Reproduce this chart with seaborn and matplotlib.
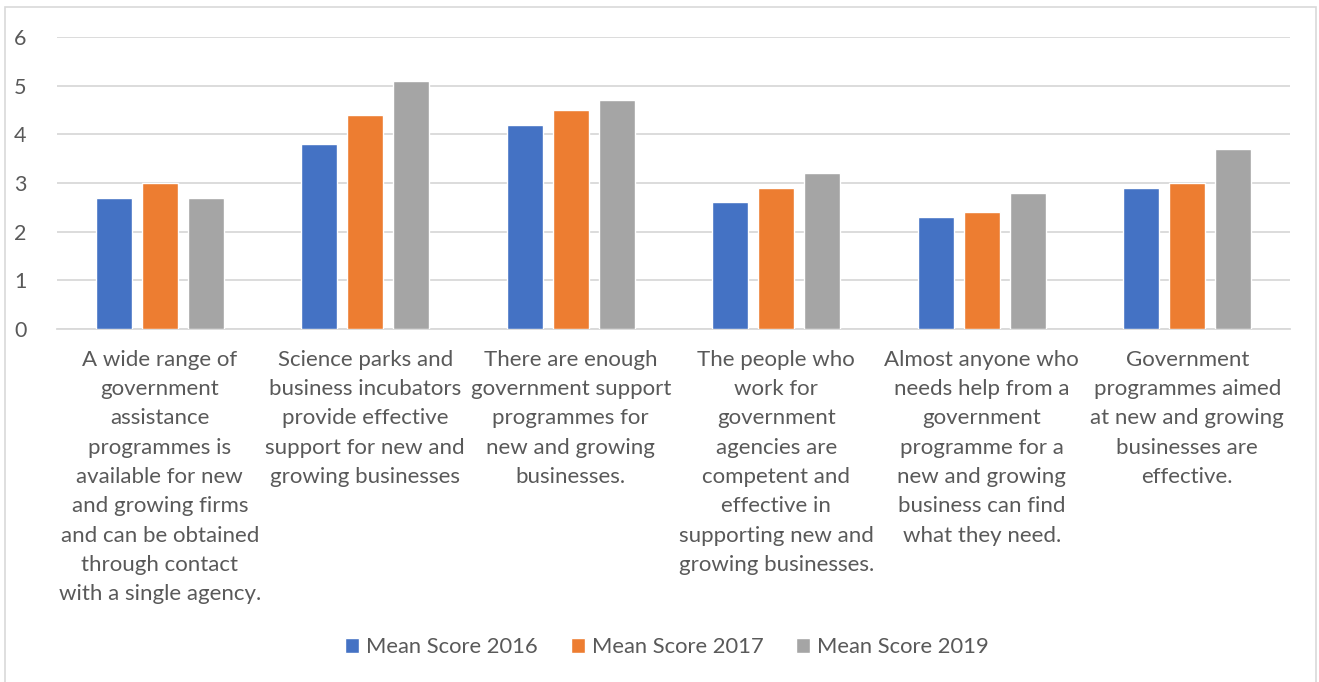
import matplotlib
matplotlib.use("Agg")
import matplotlib.pyplot as plt
import seaborn as sns
import pandas as pd
from matplotlib.patches import Rectangle

categories = [
    "A wide range of\ngovernment\nassistance\nprogrammes is\navailable for new\nand growing firms\nand can be obtained\nthrough contact\nwith a single agency.",
    "Science parks and\nbusiness incubators\nprovide effective\nsupport for new and\ngrowing businesses",
    "There are enough\ngovernment support\nprogrammes for\nnew and growing\nbusinesses.",
    "The people who\nwork for\ngovernment\nagencies are\ncompetent and\neffective in\nsupporting new and\ngrowing businesses.",
    "Almost anyone who\nneeds help from a\ngovernment\nprogramme for a\nnew and growing\nbusiness can find\nwhat they need.",
    "Government\nprogrammes aimed\nat new and growing\nbusinesses are\neffective.",
]
series_names = ["Mean Score 2016", "Mean Score 2017", "Mean Score 2019"]
score_2016 = [2.7, 3.8, 4.2, 2.6, 2.3, 2.9]
score_2017 = [3.0, 4.4, 4.5, 2.9, 2.4, 3.0]
score_2019 = [2.7, 5.1, 4.7, 3.2, 2.8, 3.7]
y_ticks = [0, 1, 2, 3, 4, 5, 6]

colors = ["#4472C4", "#ED7D31", "#A5A5A5"]
text_color = "#595959"
grid_color = "#D9D9D9"

df = pd.DataFrame({
    "category": categories * 3,
    "series": [s for s in series_names for _ in categories],
    "score": score_2016 + score_2017 + score_2019,
})

sns.set_theme(style="white")
plt.rcParams["font.family"] = ["Lato", "DejaVu Sans"]

fig = plt.figure(figsize=(13.19, 6.82), dpi=100)
ax = fig.add_axes([57 / 1319, 1 - 329 / 682, (1290 - 57) / 1319, (329 - 37) / 682])

sns.barplot(data=df, x="category", y="score", hue="series", order=categories,
            hue_order=series_names, palette=colors, width=0.67, gap=0.22,
            saturation=1, errorbar=None, ax=ax, zorder=3, legend=True)

ax.set_ylim(0, 6)
ax.set_yticks(y_ticks)
ax.set_xlim(-0.5, len(categories) - 0.5)
ax.yaxis.grid(True, color=grid_color, linewidth=1.3, zorder=0)
ax.set_axisbelow(True)
for side in ["top", "right", "left"]:
    ax.spines[side].set_visible(False)
ax.spines["bottom"].set_color(grid_color)
ax.spines["bottom"].set_linewidth(1.3)
ax.set_xlabel("")
ax.set_ylabel("")
ax.tick_params(axis="y", length=0, colors=text_color, labelsize=15.5, pad=22)
ax.tick_params(axis="x", length=0, colors=text_color, labelsize=16, pad=15)
for lbl in ax.get_xticklabels():
    lbl.set_linespacing(1.58)
    lbl.set_color(text_color)

handles, labels = ax.get_legend_handles_labels()
ax.legend_.remove()
fig.legend(handles, labels, loc="center", bbox_to_anchor=(667 / 1319, 1 - 647 / 682),
           ncol=3, frameon=False, fontsize=15.8, labelcolor=text_color,
           handlelength=0.65, handleheight=0.65, handletextpad=0.3, columnspacing=1.5)

# chart area border
fig.patches.append(Rectangle((5 / 1319, -0.01), (1316 - 5) / 1319, 1 - 7 / 682 + 0.01,
                             transform=fig.transFigure, fill=False,
                             edgecolor=grid_color, linewidth=1.2))

fig.savefig("out.png", dpi=100, facecolor="white")
